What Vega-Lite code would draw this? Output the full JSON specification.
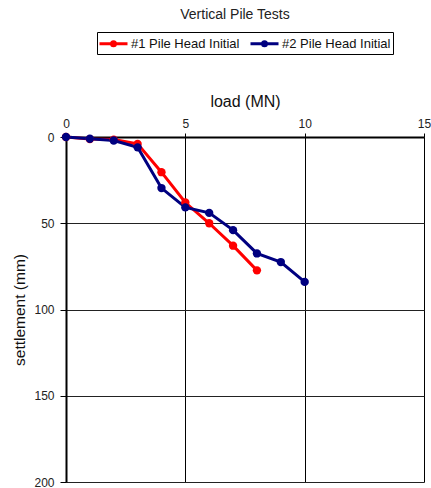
{
  "$schema": "https://vega.github.io/schema/vega-lite/v6.json",
  "autosize": {"type": "none"},
  "padding": {"left": 66, "top": 137, "right": 7, "bottom": 6},
  "width": 358,
  "height": 345,
  "background": "white",
  "title": {
    "text": "Vertical Pile Tests",
    "font": "Liberation Sans",
    "fontSize": 14,
    "fontWeight": "normal",
    "color": "#222",
    "anchor": "middle",
    "dx": -10,
    "offset": 10
  },
  "config": {
    "view": {"stroke": null},
    "font": "Liberation Sans"
  },
  "data": {
    "values": [
      {"series": "#1 Pile Head Initial", "load": 0, "settlement": 0},
      {"series": "#1 Pile Head Initial", "load": 1, "settlement": 1.2},
      {"series": "#1 Pile Head Initial", "load": 2, "settlement": 1.5},
      {"series": "#1 Pile Head Initial", "load": 3, "settlement": 4},
      {"series": "#1 Pile Head Initial", "load": 4, "settlement": 20.4},
      {"series": "#1 Pile Head Initial", "load": 5, "settlement": 38},
      {"series": "#1 Pile Head Initial", "load": 6, "settlement": 50},
      {"series": "#1 Pile Head Initial", "load": 7, "settlement": 63},
      {"series": "#1 Pile Head Initial", "load": 8, "settlement": 77.3},
      {"series": "#2 Pile Head Initial", "load": 0, "settlement": 0},
      {"series": "#2 Pile Head Initial", "load": 1, "settlement": 1},
      {"series": "#2 Pile Head Initial", "load": 2, "settlement": 2},
      {"series": "#2 Pile Head Initial", "load": 3, "settlement": 6},
      {"series": "#2 Pile Head Initial", "load": 4, "settlement": 29.6},
      {"series": "#2 Pile Head Initial", "load": 5, "settlement": 40.8},
      {"series": "#2 Pile Head Initial", "load": 6, "settlement": 44},
      {"series": "#2 Pile Head Initial", "load": 7, "settlement": 54},
      {"series": "#2 Pile Head Initial", "load": 8, "settlement": 67.5},
      {"series": "#2 Pile Head Initial", "load": 9, "settlement": 72.5},
      {"series": "#2 Pile Head Initial", "load": 10, "settlement": 84}
    ]
  },
  "mark": {
    "type": "line",
    "strokeWidth": 3,
    "point": {"filled": true, "size": 70}
  },
  "encoding": {
    "x": {
      "field": "load",
      "type": "quantitative",
      "scale": {"domain": [0, 15], "nice": false},
      "axis": {
        "orient": "top",
        "title": "load (MN)",
        "titleFontSize": 16,
        "titleFontWeight": "normal",
        "titleColor": "#111",
        "titlePadding": 8,
        "values": [0, 5, 10, 15],
        "labelFlush": false,
        "labelFontSize": 12,
        "labelColor": "#222",
        "labelPadding": 3,
        "tickSize": 4,
        "tickColor": "black",
        "domainColor": "black",
        "domainWidth": 2,
        "grid": true,
        "gridColor": "black",
        "gridWidth": 1,
        "gridOpacity": 1
      }
    },
    "y": {
      "field": "settlement",
      "type": "quantitative",
      "scale": {"domain": [0, 200], "nice": false, "reverse": true},
      "axis": {
        "title": "settlement (mm)",
        "titleFontSize": 15.5,
        "titleFontWeight": "normal",
        "titleColor": "#111",
        "titlePadding": 6,
        "values": [0, 50, 100, 150, 200],
        "labelFlush": false,
        "labelFontSize": 12,
        "labelColor": "#222",
        "labelPadding": 6,
        "tickSize": 6,
        "tickColor": "black",
        "domainColor": "black",
        "domainWidth": 2,
        "grid": true,
        "gridColor": "#222",
        "gridWidth": 1,
        "gridOpacity": 1
      }
    },
    "color": {
      "field": "series",
      "type": "nominal",
      "scale": {
        "domain": ["#1 Pile Head Initial", "#2 Pile Head Initial"],
        "range": ["#ff0000", "#000080"]
      },
      "legend": {
        "title": null,
        "orient": "none",
        "legendX": 31,
        "legendY": -105,
        "direction": "horizontal",
        "strokeColor": "black",
        "fillColor": "white",
        "padding": 2,
        "columnPadding": 4,
        "labelFont": "Liberation Sans",
        "labelFontSize": 13,
        "labelColor": "#111",
        "labelOffset": 8,
        "symbolType": "M-1.75,0L-0.25,0M0.25,0L1.75,0M-0.25,0A0.25,0.25 0 1,1 0.25,0A0.25,0.25 0 1,1 -0.25,0Z",
        "symbolSize": 256,
        "symbolStrokeWidth": 3,
        "symbolOffset": 5
      }
    }
  }
}
